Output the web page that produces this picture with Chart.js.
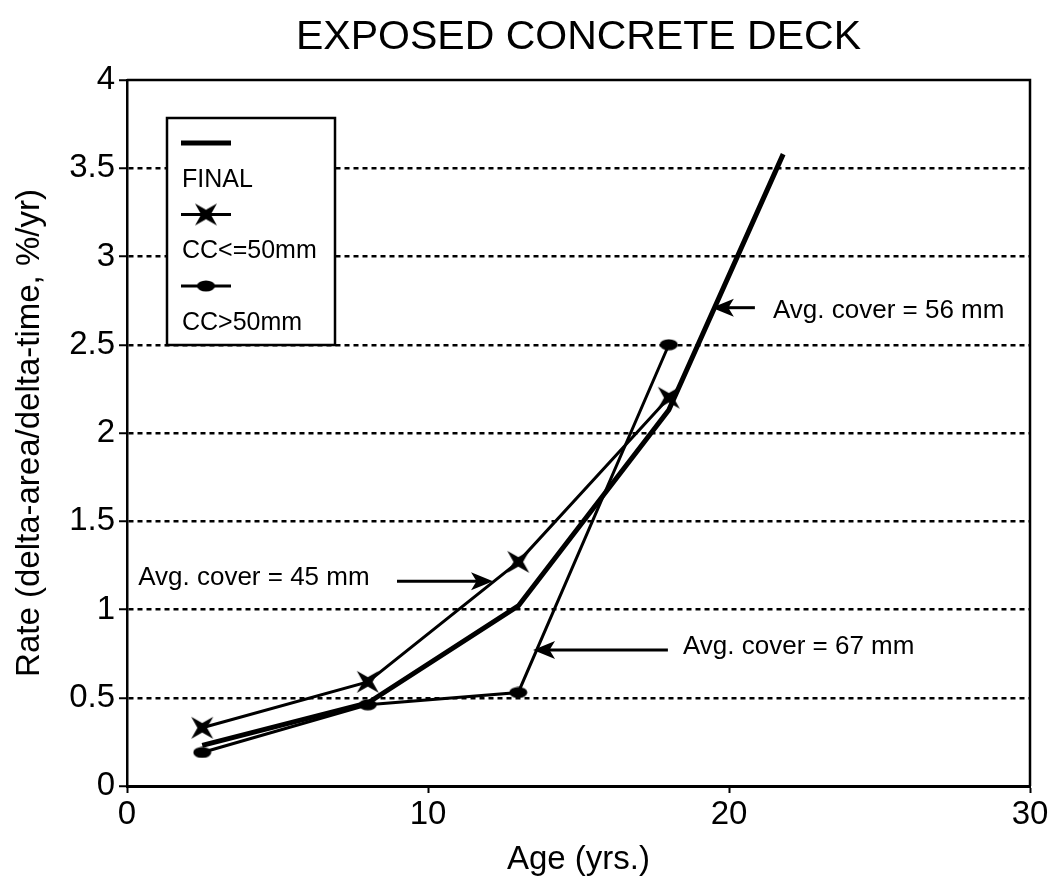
<!DOCTYPE html>
<html>
<head>
<meta charset="utf-8">
<script src="https://cdn.jsdelivr.net/npm/chart.js@4"></script>
<style>
  html, body { margin: 0; background: #fff; }
</style>
</head>
<body>
<canvas id="chart" width="1057" height="890"></canvas>
<script>
// values
const ages = [2.5, 8, 13, 18];
const finalAges = [2.5, 8, 13, 18, 21.8];
const finalRate = [0.23, 0.47, 1.02, 2.13, 3.58];
const ccSmall = [0.33, 0.59, 1.27, 2.2];   // CC<=50mm
const ccLarge = [0.19, 0.46, 0.53, 2.5];   // CC>50mm
const seriesNames = ['FINAL', 'CC<=50mm', 'CC>50mm'];
const xTickValues = [0, 10, 20, 30];
const yTickValues = [0, 0.5, 1, 1.5, 2, 2.5, 3, 3.5, 4];

const FONT = "'Liberation Sans', Arial, Helvetica, sans-serif";

// marker images
function starMarker(size) {
  const c = document.createElement('canvas');
  c.width = c.height = size;
  const g = c.getContext('2d');
  const r = size / 2, k = size * 0.2;
  g.translate(r, r);
  g.fillStyle = '#000';
  g.beginPath();
  g.moveTo(-r + 1, -r + 1); g.lineTo(0, -k); g.lineTo(r - 1, -r + 1); g.lineTo(k, 0);
  g.lineTo(r - 1, r - 1); g.lineTo(0, k); g.lineTo(-r + 1, r - 1); g.lineTo(-k, 0);
  g.closePath();
  g.fill();
  return c;
}
function dotMarker(w, h) {
  const c = document.createElement('canvas');
  c.width = w; c.height = h;
  const g = c.getContext('2d');
  g.fillStyle = '#000';
  g.beginPath();
  g.ellipse(w / 2, h / 2, w / 2 - 0.5, h / 2 - 0.5, 0, 0, Math.PI * 2);
  g.fill();
  return c;
}
const star = starMarker(24);
const dot = dotMarker(19, 12);

const toPoints = (xs, ys) => xs.map((x, i) => ({ x: x, y: ys[i] }));

// annotation arrows, in data units
const notes = [
  { text: 'Avg. cover = 45 mm', tx: 0.37, ty: 1.18, from: [8.97, 1.16], to: [12.16, 1.16] },
  { text: 'Avg. cover = 67 mm', tx: 18.47, ty: 0.79, from: [17.97, 0.77], to: [13.49, 0.77] },
  { text: 'Avg. cover = 56 mm', tx: 21.46, ty: 2.69, from: [20.86, 2.71], to: [19.43, 2.71] }
];

function arrow(ctx, x1, y1, x2, y2) {
  const ang = Math.atan2(y2 - y1, x2 - x1);
  const len = 22, half = 9;
  const c = Math.cos(ang), s = Math.sin(ang);
  ctx.beginPath();
  ctx.moveTo(x1, y1);
  ctx.lineTo(x2 - c * len * 0.6, y2 - s * len * 0.6);
  ctx.stroke();
  ctx.beginPath();
  ctx.moveTo(x2, y2);
  ctx.lineTo(x2 - c * len - s * half, y2 - s * len + c * half);
  ctx.lineTo(x2 - c * len * 0.75, y2 - s * len * 0.75);
  ctx.lineTo(x2 - c * len + s * half, y2 - s * len - c * half);
  ctx.closePath();
  ctx.fill();
}

const extras = {
  id: 'extras',
  afterDraw(chart) {
    const { ctx, chartArea: a, scales: { x, y } } = chart;
    ctx.save();
    ctx.strokeStyle = '#000';
    ctx.fillStyle = '#000';

    // frame on top and right
    ctx.lineWidth = 2.5;
    ctx.beginPath();
    ctx.moveTo(a.left, a.top); ctx.lineTo(a.right, a.top); ctx.lineTo(a.right, a.bottom);
    ctx.stroke();

    // title
    ctx.font = '41px ' + FONT;
    ctx.textAlign = 'center';
    ctx.textBaseline = 'middle';
    ctx.fillText('EXPOSED CONCRETE DECK', (a.left + a.right) / 2, 38);

    // annotations
    ctx.font = '26px ' + FONT;
    ctx.textAlign = 'left';
    ctx.lineWidth = 3;
    notes.forEach(n => {
      ctx.fillText(n.text, x.getPixelForValue(n.tx), y.getPixelForValue(n.ty));
      arrow(ctx, x.getPixelForValue(n.from[0]), y.getPixelForValue(n.from[1]),
        x.getPixelForValue(n.to[0]), y.getPixelForValue(n.to[1]));
    });

    // legend box
    const bx = 167, by = 118, bw = 168, bh = 227;
    ctx.fillStyle = '#fff';
    ctx.fillRect(bx, by, bw, bh);
    ctx.lineWidth = 2.5;
    ctx.strokeRect(bx, by, bw, bh);
    ctx.fillStyle = '#000';
    ctx.font = '25px ' + FONT;
    const marks = [null, star, dot];
    const widths = [5, 3, 3];
    seriesNames.forEach((name, i) => {
      const ly = 143 + i * 71.5;
      ctx.lineWidth = widths[i];
      ctx.beginPath();
      ctx.moveTo(181, ly); ctx.lineTo(231, ly);
      ctx.stroke();
      if (marks[i]) ctx.drawImage(marks[i], 206 - marks[i].width / 2, ly - marks[i].height / 2);
      ctx.fillText(name, 182, ly + 37);
    });
    ctx.restore();
  }
};

new Chart(document.getElementById('chart'), {
  type: 'line',
  data: {
    datasets: [
      {
        label: seriesNames[0],
        data: toPoints(finalAges, finalRate),
        borderColor: '#000',
        borderWidth: 5,
        pointRadius: 0
      },
      {
        label: seriesNames[1],
        data: toPoints(ages, ccSmall),
        borderColor: '#000',
        borderWidth: 3,
        pointStyle: star,
        pointRadius: 12
      },
      {
        label: seriesNames[2],
        data: toPoints(ages, ccLarge),
        borderColor: '#000',
        borderWidth: 3,
        pointStyle: dot,
        pointRadius: 9
      }
    ]
  },
  options: {
    responsive: false,
    animation: false,
    layout: { padding: { left: 0, right: 27, top: 80, bottom: 0 } },
    plugins: {
      legend: { display: false },
      tooltip: { enabled: false }
    },
    scales: {
      x: {
        type: 'linear',
        min: 0,
        max: 30,
        afterBuildTicks: s => { s.ticks = xTickValues.map(v => ({ value: v })); },
        afterFit: s => { s.height = 104; },
        ticks: { color: '#000', font: { family: FONT, size: 33 }, padding: 2, maxRotation: 0,
          callback: v => String(v) },
        grid: { drawOnChartArea: false, drawTicks: true, tickLength: 7, tickColor: '#000', tickWidth: 2 },
        border: { color: '#000', width: 3 },
        title: {
          display: true,
          text: 'Age (yrs.)',
          color: '#000',
          font: { family: FONT, size: 33 },
          padding: { top: 0, bottom: 10 }
        }
      },
      y: {
        type: 'linear',
        min: 0,
        max: 4,
        afterBuildTicks: s => { s.ticks = yTickValues.map(v => ({ value: v })); },
        afterFit: s => { s.width = 127; },
        ticks: { color: '#000', font: { family: FONT, size: 33 }, padding: 4,
          callback: v => String(v) },
        grid: {
          color: c => (c.tick && (c.tick.value === 0 || c.tick.value === 4)) ? 'rgba(0,0,0,0)' : '#000',
          lineWidth: 2.5,
          drawTicks: true,
          tickLength: 8,
          tickColor: '#000',
          tickWidth: 2
        },
        border: { color: '#000', width: 2.5, dash: [5, 4] },
        title: {
          display: true,
          text: 'Rate (delta-area/delta-time, %/yr)',
          color: '#000',
          font: { family: FONT, size: 33 },
          padding: { top: 10, bottom: 0 }
        }
      }
    }
  },
  plugins: [extras]
});
</script>
</body>
</html>
